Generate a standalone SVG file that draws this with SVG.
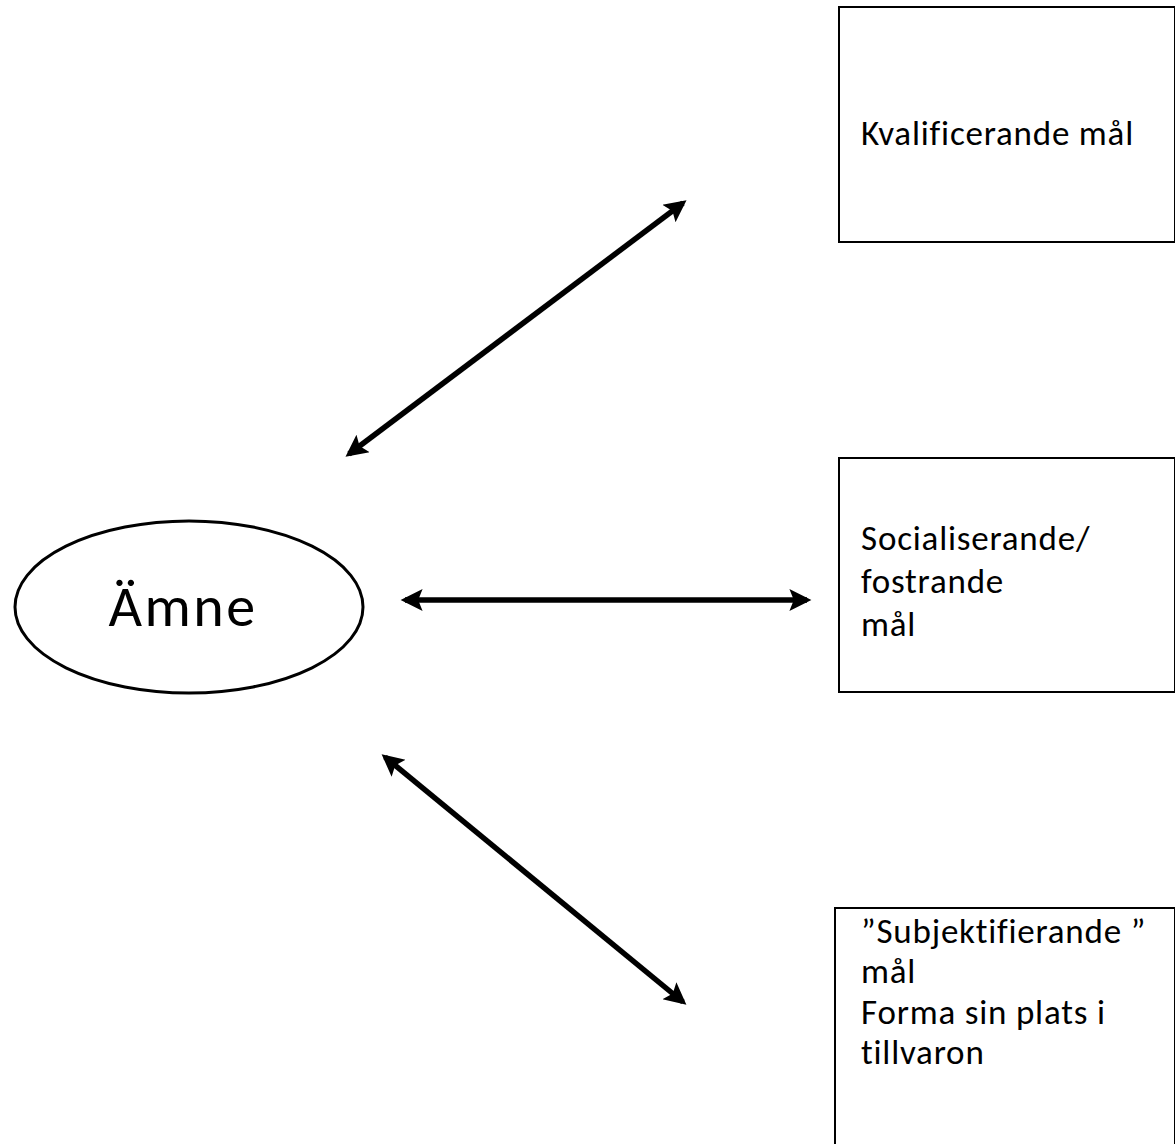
<svg xmlns="http://www.w3.org/2000/svg" width="1175" height="1144" viewBox="0 0 1175 1144">
<style>
.box{fill:#fff;stroke:#000;stroke-width:2}
.lbl{font-family:Carlito,Lato,"Liberation Sans",sans-serif;font-size:35px;letter-spacing:0.8px;fill:#000}
.conn{stroke:#000;stroke-width:5.5;fill:none;marker-start:url(#ah);marker-end:url(#ah)}
</style>
<defs>
<marker id="ah" viewBox="0 0 10 10" refX="8" refY="5" markerWidth="4.4" markerHeight="4" orient="auto-start-reverse" markerUnits="strokeWidth">
<path d="M0,0 L10,5 L0,10 L2,5 Z" fill="#000"/>
</marker>
</defs>
<rect width="1175" height="1144" fill="#fff"/>
<g id="connectors">
<line class="conn" x1="349" y1="454" x2="683" y2="203"/>
<line class="conn" x1="405" y1="600" x2="807" y2="600"/>
<line class="conn" x1="385" y1="757" x2="683" y2="1002"/>
</g>
<g id="amne">
<ellipse cx="189" cy="607" rx="174" ry="86" fill="#fff" stroke="#000" stroke-width="3"/>
<text class="lbl" x="183" y="626" text-anchor="middle" style="font-size:58px;letter-spacing:2.5px">Ämne</text>
</g>
<g id="kvalificerande">
<rect class="box" x="839" y="7" width="336" height="235"/>
<text class="lbl" x="861" y="145">Kvalificerande mål</text>
</g>
<g id="socialiserande">
<rect class="box" x="839" y="458" width="336" height="234"/>
<text class="lbl" x="861" y="550">Socialiserande/</text>
<text class="lbl" x="861" y="593">fostrande</text>
<text class="lbl" x="861" y="636">mål</text>
</g>
<g id="subjektifierande">
<rect class="box" x="835" y="908" width="340" height="250"/>
<text class="lbl" x="861" y="943">”Subjektifierande ”</text>
<text class="lbl" x="861" y="983">mål</text>
<text class="lbl" x="861" y="1024">Forma sin plats i</text>
<text class="lbl" x="861" y="1064">tillvaron</text>
</g>
</svg>
